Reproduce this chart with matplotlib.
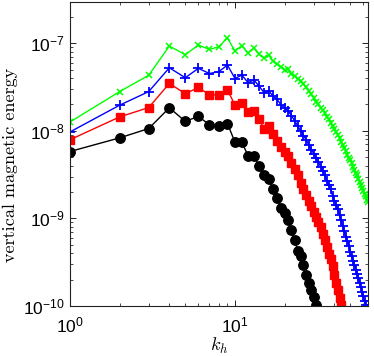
import numpy as np
import matplotlib
matplotlib.use("Agg")
import matplotlib.pyplot as plt
from matplotlib.ticker import LogLocator, FixedLocator, FixedFormatter, NullFormatter

plt.rcParams['mathtext.fontset'] = 'custom'
plt.rcParams['mathtext.rm'] = 'Liberation Sans'
plt.rcParams['mathtext.it'] = 'Liberation Sans:italic'
plt.rcParams['font.family'] = 'Liberation Sans'

# ---- data ----
green = [1.26e-8, 2.80e-8, 4.30e-8, 9.25e-8, 7.4e-8, 9.5e-8, 8.5e-8, 9.1e-8, 1.15e-7, 8.1e-8,
         9.4e-8, 7.7e-8, 8.8e-8, 7.5e-8, 6.75e-8, 7.3e-8, 6.25e-8, 5.77e-8, 5.34e-8, 4.93e-8,
         5.07e-8, 4.44e-8, 4.22e-8, 3.90e-8, 3.70e-8, 3.42e-8, 3.16e-8, 2.85e-8, 2.63e-8, 2.37e-8,
         2.14e-8, 2.03e-8, 1.83e-8, 1.73e-8, 1.60e-8, 1.44e-8, 1.37e-8, 1.23e-8, 1.14e-8, 1.05e-8,
         9.7e-9, 9.0e-9, 8.3e-9, 7.5e-9, 6.9e-9, 6.4e-9, 5.9e-9, 5.3e-9, 4.9e-9, 4.6e-9,
         4.3e-9, 3.9e-9, 3.6e-9, 3.3e-9, 3.1e-9, 2.85e-9, 2.63e-9, 2.43e-9, 2.25e-9, 2.08e-9,
         1.92e-9, 1.78e-9, 1.64e-9, 1.52e-9]
blue = [9.7e-9, 1.96e-8, 2.80e-8, 5.24e-8, 4.03e-8, 5.16e-8, 4.5e-8, 4.74e-8, 5.62e-8, 3.95e-8,
        4.33e-8, 3.54e-8, 3.80e-8, 3.24e-8, 2.72e-8, 2.85e-8, 2.50e-8, 2.29e-8, 1.97e-8, 1.83e-8,
        1.69e-8, 1.48e-8, 1.30e-8, 1.14e-8, 1.0e-8, 8.8e-9, 7.9e-9, 6.9e-9, 6.1e-9, 5.5e-9,
        4.9e-9, 4.45e-9, 3.9e-9, 3.5e-9, 3.1e-9, 2.7e-9, 2.43e-9, 2.14e-9, 1.82e-9, 1.60e-9,
        1.44e-9, 1.27e-9, 1.08e-9, 9.5e-10, 8.1e-10, 7.1e-10, 6.2e-10, 5.5e-10, 4.8e-10, 4.1e-10,
        3.7e-10, 3.24e-10, 2.92e-10, 2.56e-10, 2.31e-10, 2.08e-10, 1.82e-10, 1.64e-10, 1.44e-10, 1.30e-10,
        1.14e-10, 1.03e-10, 9.2e-11, 8.3e-11]
red = [7.9e-9, 1.44e-8, 1.84e-8, 3.47e-8, 2.65e-8, 3.12e-8, 2.57e-8, 2.57e-8, 2.92e-8, 1.97e-8,
       2.10e-8, 1.64e-8, 1.69e-8, 1.35e-8, 1.05e-8, 1.14e-8, 9.2e-9, 7.7e-9, 6.5e-9, 5.8e-9,
       5.1e-9, 4.3e-9, 3.7e-9, 3.1e-9, 2.56e-9, 2.14e-9, 1.87e-9, 1.60e-9, 1.37e-9, 1.18e-9,
       1.03e-9, 9.0e-10, 7.9e-10, 6.6e-10, 5.6e-10, 4.7e-10, 3.9e-10, 3.42e-10, 2.85e-10, 2.25e-10,
       1.82e-10, 1.52e-10, 1.23e-10, 1.03e-10, 8.5e-11]
black = [5.8e-9, 8.3e-9, 1.06e-8, 1.83e-8, 1.28e-8, 1.46e-8, 1.17e-8, 1.12e-8, 1.21e-8, 7.4e-9,
         7.4e-9, 5.2e-9, 5.2e-9, 4.0e-9, 3.1e-9, 2.85e-9, 2.19e-9, 1.69e-9, 1.33e-9, 1.14e-9,
         9.5e-10, 7.3e-10, 5.6e-10, 4.3e-10, 3.7e-10, 2.92e-10, 2.25e-10, 1.82e-10, 1.52e-10, 1.27e-10,
         1.03e-10, 8.5e-11]

k_green = np.arange(1, len(green) + 1)
k_blue = np.arange(1, len(blue) + 1)
k_red = np.arange(1, len(red) + 1)
k_black = np.arange(1, len(black) + 1)

xticks = [1, 10]
xticklabels = [r'$10^{0}$', r'$10^{1}$']
yticks = [1e-10, 1e-9, 1e-8, 1e-7]
yticklabels = [r'$10^{-10}$', r'$10^{-9}$', r'$10^{-8}$', r'$10^{-7}$']

fig = plt.figure(figsize=(3.74, 3.57), dpi=100)
ax = fig.add_axes([70/374, 1 - 306/357, 298/374, 304/357])

ax.plot(k_green, green, '-', color=(0, 1, 0), marker='x', ms=5, mew=1.1, lw=1.0)
ax.plot(k_blue, blue, '-', color=(0, 0, 1), marker='+', ms=7, mew=1.3, lw=1.0)
ax.plot(k_red, red, '-', color=(1, 0, 0), marker='s', ms=5.8, lw=1.0)
ax.plot(k_black, black, '-', color='black', marker='o', ms=6.8, lw=1.0)

ax.set_xscale('log')
ax.set_yscale('log')
ax.set_xlim(1, 64)
ax.set_ylim(1e-10, 2.95e-7)

ax.xaxis.set_major_locator(FixedLocator(xticks))
ax.xaxis.set_major_formatter(FixedFormatter(xticklabels))
ax.yaxis.set_major_locator(FixedLocator(yticks))
ax.yaxis.set_major_formatter(FixedFormatter(yticklabels))
ax.xaxis.set_minor_locator(LogLocator(base=10, subs=np.arange(2, 10)))
ax.yaxis.set_minor_locator(LogLocator(base=10, subs=np.arange(2, 10)))
ax.xaxis.set_minor_formatter(NullFormatter())
ax.yaxis.set_minor_formatter(NullFormatter())

ax.tick_params(which='both', direction='in', top=True, right=True, labelsize=12.5)
ax.tick_params(which='major', length=4, width=0.6)
ax.tick_params(which='minor', length=2, width=0.5)
ax.tick_params(axis='x', pad=7)
ax.tick_params(axis='y', pad=4)
for s in ax.spines.values():
    s.set_linewidth(0.8)
    s.set_color('#222222')

ax.set_xlabel(r'$k_h$', fontsize=13, math_fontfamily='cm', labelpad=0)
ax.set_ylabel('vertical magnetic energy', fontsize=13, family='cmr10')
ax.yaxis.set_label_coords(-52/298, 0.465)

fig.savefig('out.png', dpi=100)
